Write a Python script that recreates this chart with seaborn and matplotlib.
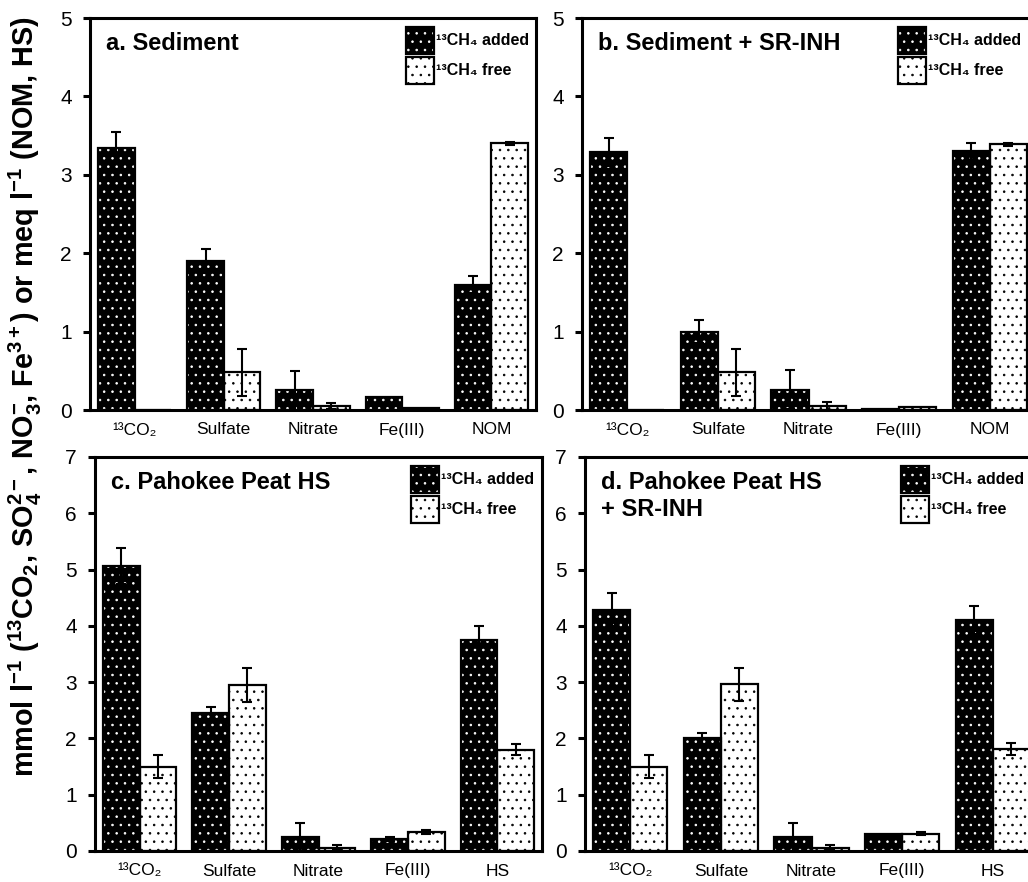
import numpy as np
import pandas as pd
import matplotlib
matplotlib.use("Agg")
import matplotlib.pyplot as plt
import seaborn as sns
from matplotlib.patches import Rectangle, Patch
from matplotlib.legend_handler import HandlerTuple

# ---------------- data ----------------
series = ["added", "free"]
cats_sed = ["13CO2", "Sulfate", "Nitrate", "Fe(III)", "NOM"]
cats_hs = ["13CO2", "Sulfate", "Nitrate", "Fe(III)", "HS"]
ticks_sed = ["¹³CO₂", "Sulfate", "Nitrate", "Fe(III)", "NOM"]
ticks_hs = ["¹³CO₂", "Sulfate", "Nitrate", "Fe(III)", "HS"]
legend_labels = ["¹³CH₄ added", "¹³CH₄ free"]

a_added = [3.34, 1.90, 0.25, 0.17, 1.60]
a_added_err = [0.20, 0.15, 0.25, 0.0, 0.11]
a_free = [0.0, 0.48, 0.05, 0.02, 3.40]
a_free_err = [0.0, 0.30, 0.04, 0.0, 0.02]

b_added = [3.29, 1.00, 0.26, 0.015, 3.30]
b_added_err = [0.18, 0.15, 0.25, 0.0, 0.11]
b_free = [0.0, 0.48, 0.05, 0.04, 3.39]
b_free_err = [0.0, 0.30, 0.05, 0.0, 0.02]

c_added = [5.06, 2.45, 0.25, 0.21, 3.75]
c_added_err = [0.32, 0.10, 0.25, 0.03, 0.24]
c_free = [1.50, 2.95, 0.06, 0.34, 1.80]
c_free_err = [0.20, 0.30, 0.05, 0.03, 0.10]

d_added = [4.29, 2.00, 0.25, 0.30, 4.10]
d_added_err = [0.30, 0.10, 0.25, 0.0, 0.25]
d_free = [1.50, 2.96, 0.06, 0.31, 1.81]
d_free_err = [0.20, 0.30, 0.04, 0.02, 0.10]

titles = ["a. Sediment", "b. Sediment + SR-INH", "c. Pahokee Peat HS",
          "d. Pahokee Peat HS\n+ SR-INH"]

# ---------------- style ----------------
sns.set_theme(style="white")
plt.rcParams["font.family"] = ["Liberation Sans", "DejaVu Sans"]
plt.rcParams["mathtext.fontset"] = "custom"
plt.rcParams["mathtext.rm"] = "Liberation Sans"
plt.rcParams["mathtext.it"] = "Liberation Sans:italic"
plt.rcParams["mathtext.bf"] = "Liberation Sans:bold"
plt.rcParams["mathtext.default"] = "rm"
plt.rcParams["hatch.linewidth"] = 0.6
for k in ["text.color", "axes.labelcolor", "xtick.color", "ytick.color"]:
    plt.rcParams[k] = "black"

fig = plt.figure(figsize=(10.28, 8.82), dpi=100)
W, H = 1028.0, 882.0
boxes = [(90, 18, 446, 392), (582, 18, 453, 392),
         (95, 457, 447, 394), (585, 457, 453, 394)]

panels = [
    (cats_sed, ticks_sed, a_added, a_added_err, a_free, a_free_err, 5),
    (cats_sed, ticks_sed, b_added, b_added_err, b_free, b_free_err, 5),
    (cats_hs, ticks_hs, c_added, c_added_err, c_free, c_free_err, 7),
    (cats_hs, ticks_hs, d_added, d_added_err, d_free, d_free_err, 7),
]

styles = {"added": ("black", "white"), "free": ("white", "black")}

for (l, t, w, h), title, (cats, tl, ya, ea, yf, ef, ymax) in zip(boxes, titles, panels):
    ax = fig.add_axes([l / W, 1 - (t + h) / H, w / W, h / H])
    df = pd.DataFrame({
        "category": cats + cats,
        "series": ["added"] * len(cats) + ["free"] * len(cats),
        "value": list(ya) + list(yf),
        "err": list(ea) + list(ef),
    })
    sns.barplot(data=df, x="category", y="value", hue="series", order=cats,
                hue_order=series, palette=["black", "white"], width=0.82,
                saturation=1, errorbar=None, legend=False, ax=ax)
    for cont, s in zip(ax.containers, series):
        fc, hc = styles[s]
        sub = df[df["series"] == s].set_index("category").loc[cats]
        xs, ys, es = [], [], []
        for p, (_, row) in zip(cont.patches, sub.iterrows()):
            p.set_facecolor(fc)
            p.set_edgecolor(hc)
            p.set_hatch("..")
            p.set_linewidth(0)
            ax.add_patch(Rectangle((p.get_x(), p.get_y()), p.get_width(), p.get_height(),
                                   fill=False, edgecolor="black", linewidth=1.6, zorder=3))
            if row["err"] > 0:
                xs.append(p.get_x() + p.get_width() / 2)
                ys.append(row["value"])
                es.append(row["err"])
        ax.errorbar(xs, ys, yerr=es, fmt="none", ecolor="black", elinewidth=1.5,
                    capsize=3.5, capthick=1.5, zorder=4)

    ax.set_xlim(-0.5, 4.5)
    ax.set_ylim(0, ymax)
    ax.set_yticks(range(0, ymax + 1))
    ax.set_xticks(range(len(cats)))
    ax.set_xticklabels(tl)
    ax.set_xlabel("")
    ax.set_ylabel("")
    for sp in ax.spines.values():
        sp.set_visible(True)
        sp.set_color("black")
        sp.set_linewidth(2.2)
    ax.tick_params(axis="y", which="major", left=True, direction="out", length=5,
                   width=2.2, color="black", labelsize=15, pad=8, labelcolor="black")
    ax.tick_params(axis="x", which="major", bottom=False, length=0, labelsize=12.5,
                   pad=9, labelcolor="black")
    ax.text(0.035, 0.965, title, transform=ax.transAxes, fontsize=17,
            fontweight="bold", va="top", ha="left", linespacing=1.25)

    h_add = (Patch(facecolor="black", edgecolor="white", hatch="..", linewidth=0),
             Patch(facecolor="none", edgecolor="black", linewidth=1.6))
    h_free = (Patch(facecolor="white", edgecolor="black", hatch="..", linewidth=0),
              Patch(facecolor="none", edgecolor="black", linewidth=1.6))
    ax.legend([h_add, h_free], legend_labels,
              handler_map={tuple: HandlerTuple(ndivide=1, pad=0)},
              loc="upper left", bbox_to_anchor=(316 / w, 1 - 9 / h),
              frameon=False, prop={"weight": "bold", "size": 11.5},
              handlelength=1.75, handleheight=2.2, handletextpad=0.15,
              labelspacing=0.2, borderpad=0, borderaxespad=0)

ylabel = (r"mmol l$^{\mathbf{-1}}$ ($^{\mathbf{13}}$CO$_{\mathbf{2}}$, "
          r"SO$_{\mathbf{4}}^{\mathbf{2-}}$, NO$_{\mathbf{3}}^{\mathbf{-}}$, "
          r"Fe$^{\mathbf{3+}}$) or meq l$^{\mathbf{-1}}$ (NOM, HS)")
fig.text(25 / W, 1 - 397 / H, ylabel, rotation=90, fontsize=20.8, fontweight="bold",
         va="center", ha="center")

fig.savefig("out.png", dpi=100)
